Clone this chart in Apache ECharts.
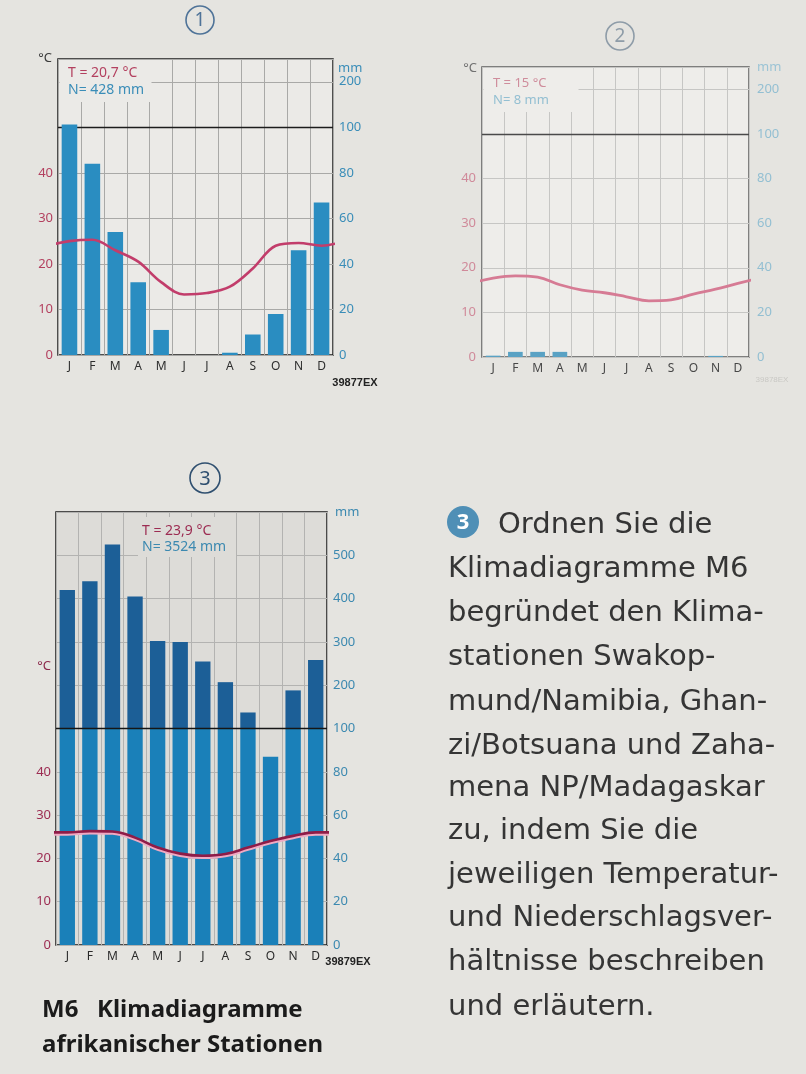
<!DOCTYPE html>
<html><head><meta charset="utf-8">
<script src="https://cdn.jsdelivr.net/npm/echarts@6/dist/echarts.min.js"></script>
<style>html,body{margin:0;padding:0;background:#e5e4e0;}#c{width:806px;height:1074px;}</style>
</head><body><div id="c"></div>
<script>
// ---------- data ----------
const months = ['J','F','M','A','M','J','J','A','S','O','N','D'];
// Diagram 1  (T = 20,7 °C, N = 428 mm)
const temp1   = [25.0, 25.3, 23.0, 20.5, 16.0, 13.3, 13.6, 15.0, 19.0, 24.0, 24.6, 24.0];
const precip1 = [106, 84, 54, 32, 11, 0, 0, 1, 9, 18, 46, 67];
// Diagram 2  (T = 15 °C, N = 8 mm)
const temp2   = [17.7, 18.2, 17.9, 16.2, 15.0, 14.4, 13.5, 12.6, 12.8, 14.1, 15.2, 16.5];
const precip2 = [0.6, 2.3, 2.3, 2.3, 0, 0, 0, 0, 0, 0, 0.5, 0];
// Diagram 3  (T = 23,9 °C, N = 3524 mm)
const temp3   = [26.0, 26.3, 26.2, 24.8, 22.5, 21.1, 20.6, 21.0, 22.5, 24.0, 25.2, 26.0];
const precip3 = [420, 440, 525, 405, 302, 300, 255, 207, 137, 87, 188, 258];
// tick labels
const tempTicks = [0, 10, 20, 30, 40];
const mmTicks12 = [0, 20, 40, 60, 80, 100, 200];
const mmTicks3  = [0, 20, 40, 60, 80, 100, 200, 300, 400, 500];

// ---------- scale helpers (Walter-Lieth: 10 °C = 20 mm, above 100 mm compressed 1:5) ----------
const toD = p => p <= 100 ? p : 100 + (p - 100) / 5;
const dToMm = d => d <= 100 ? d : 100 + (d - 100) * 5;
const cyc = t => [[-0.5, t[11] * 2]].concat(t.map((v, i) => [i + 0.5, v * 2]), [[12.5, t[0] * 2]]);

const G = [
  {left: 58, top: 59, width: 275, height: 296, max: 130, bg: '#ebeae7', frame: '#1c1c1c', split: '#a9a9a7',
   tCol: '#b3405f', pCol: '#3a8db8', mCol: '#2e2e2e', ticks: mmTicks12},
  {left: 482, top: 67, width: 267, height: 290, max: 130, bg: '#eeedea', frame: '#5c5c5c', split: '#c6c6c4',
   tCol: '#d08a9a', pCol: '#93bfd2', mCol: '#474747', ticks: mmTicks12},
  {left: 56, top: 512, width: 271, height: 433, max: 200, bg: '#dddcd8', frame: '#1a1a1a', split: '#b3b3b1',
   tCol: '#9c2c52', pCol: '#3c89b0', mCol: '#2a2a2a', ticks: mmTicks3}
];

const grid = [], xAxis = [], yAxis = [];
G.forEach((g, i) => {
  grid.push({left: g.left, top: g.top, width: g.width, height: g.height, show: true,
    backgroundColor: g.bg, borderColor: g.frame, borderWidth: 1.5, containLabel: false});
  xAxis.push({type: 'category', gridIndex: i, data: months, boundaryGap: true,
    axisLine: {show: false}, axisTick: {show: false},
    axisLabel: {color: g.mCol, fontSize: 12, margin: 6, fontFamily: 'Noto Sans', interval: 0},
    splitLine: {show: true, interval: 0, lineStyle: {color: g.split, width: 1}}});
  xAxis.push({type: 'value', gridIndex: i, min: 0, max: 12, show: false});
  yAxis.push({type: 'value', gridIndex: i, min: 0, max: g.max, interval: 20, position: 'left',
    axisLine: {show: false}, axisTick: {show: false},
    splitLine: {show: true, lineStyle: {color: g.split, width: 1}},
    axisLabel: {color: g.tCol, fontSize: 13, margin: i === 1 ? 6 : 5, fontFamily: 'Noto Sans',
      formatter: v => tempTicks.includes(v / 2) ? String(v / 2) : ''}});
  yAxis.push({type: 'value', gridIndex: i, min: 0, max: g.max, interval: 20, position: 'right',
    axisLine: {show: false}, axisTick: {show: false}, splitLine: {show: false},
    axisLabel: {color: g.pCol, fontSize: 13, margin: i === 1 ? 8 : 6, fontFamily: 'Noto Sans',
      formatter: v => g.ticks.includes(dToMm(v)) ? String(dToMm(v)) : ''}});
});

const line100 = (color, z) => ({silent: true, symbol: 'none', z: z, label: {show: false},
  lineStyle: {color: color, width: 1.4, type: 'solid'}, data: [{yAxis: 100}]});

const series = [
  // diagram 1
  {type: 'bar', xAxisIndex: 0, yAxisIndex: 0, barWidth: '68%', data: precip1.map(toD), z: 3,
   itemStyle: {color: '#2a8dc1'}, markLine: line100('#1c1c1c', 1)},
  {type: 'line', xAxisIndex: 1, yAxisIndex: 0, data: cyc(temp1), smooth: 0.35, showSymbol: false,
   lineStyle: {color: '#c23d6b', width: 2.6}, z: 4},
  // diagram 2
  {type: 'bar', xAxisIndex: 2, yAxisIndex: 2, barWidth: '66%', data: precip2.map(toD),
   itemStyle: {color: '#5aa2c4'}, markLine: line100('#4a4a4a', 1)},
  {type: 'line', xAxisIndex: 3, yAxisIndex: 2, data: cyc(temp2), smooth: 0.4, showSymbol: false,
   lineStyle: {color: '#d67b94', width: 2.8}, z: 4},
  // diagram 3 (stacked: up to 100 mm, and compressed part above)
  {type: 'bar', xAxisIndex: 4, yAxisIndex: 4, barWidth: '68%', stack: 'p3',
   data: precip3.map(p => Math.min(p, 100)), itemStyle: {color: '#1a80b9'},
   markLine: line100('#161616', 5)},
  {type: 'bar', xAxisIndex: 4, yAxisIndex: 4, barWidth: '68%', stack: 'p3',
   data: precip3.map(p => Math.max(0, toD(p) - 100)), itemStyle: {color: '#1c5f97'}},
  {type: 'line', xAxisIndex: 5, yAxisIndex: 4, data: cyc(temp3), smooth: 0.4, showSymbol: false,
   lineStyle: {color: '#8e1c48', width: 2.6, shadowColor: '#efa9c2', shadowOffsetY: 2, shadowBlur: 0}, z: 6}
];

const T = (text, x, y, o) => Object.assign({type: 'text', z: 10, style: Object.assign({
  text: text, x: x, y: y, fontSize: 13, fontFamily: 'Noto Sans', fill: '#333',
  textAlign: 'left', textVerticalAlign: 'middle'}, o || {})});
const circ = (cx, cy, r, col, num, fs) => [
  {type: 'circle', z: 10, shape: {cx: cx, cy: cy, r: r}, style: {fill: 'none', stroke: col, lineWidth: 1.6}},
  T(num, cx, cy + 1, {fill: col, fontSize: fs, textAlign: 'center'})
];

const para = [
  ['Klimadiagramme M6', 579], ['begründet den Klima-', 623], ['stationen Swakop-', 667],
  ['mund/Namibia, Ghan-', 712], ['zi/Botsuana und Zaha-', 756], ['mena NP/Madagaskar', 798],
  ['zu, indem Sie die', 841], ['jeweiligen Temperatur-', 885], ['und Niederschlagsver-', 928],
  ['hältnisse beschreiben', 972], ['und erläutern.', 1017]
];
const pStyle = {fontSize: 29, fontFamily: 'DejaVu Sans', fill: '#353535'};

const graphic = [
  // text boxes hiding the grid behind the T/N annotations
  {type: 'rect', z: 1, shape: {x: 59.5, y: 60, width: 92, height: 42}, style: {fill: G[0].bg}},
  {type: 'rect', z: 1, shape: {x: 483.5, y: 68, width: 95, height: 44}, style: {fill: G[1].bg}},
  {type: 'rect', z: 1, shape: {x: 138, y: 517, width: 98, height: 40}, style: {fill: G[2].bg}},
  // diagram 1
  ...circ(200, 20, 14, '#4f7398', '1', 19),
  T('°C', 52, 58, {textAlign: 'right', fill: '#3a3a3a'}),
  T('mm', 338, 68, {fill: '#3a8db8'}),
  T('T = 20,7 °C', 68, 73, {fill: '#b3405f', fontSize: 14}),
  T('N= 428 mm', 68, 90, {fill: '#3a8db8', fontSize: 14}),
  T('39877EX', 355, 383, {textAlign: 'center', fontSize: 11, fontWeight: 'bold', fontFamily: 'Liberation Sans', fill: '#222'}),
  // diagram 2
  ...circ(620, 36, 14, '#8e9ca8', '2', 19),
  T('°C', 477, 68, {textAlign: 'right', fill: '#707070'}),
  T('mm', 757, 67, {fill: '#9cc4d5'}),
  T('T = 15 °C', 493, 83, {fill: '#cf8d9c', fontSize: 13}),
  T('N= 8 mm', 493, 100, {fill: '#93bfd2', fontSize: 13}),
  T('39878EX', 772, 380, {textAlign: 'center', fontSize: 8, fontFamily: 'Liberation Sans', fill: '#c9c8c4'}),
  // diagram 3
  ...circ(205, 478, 15, '#2f4f6f', '3', 20),
  T('°C', 51, 666, {textAlign: 'right', fill: '#8c2a4c'}),
  T('mm', 335, 512, {fill: '#3c89b0'}),
  T('T = 23,9 °C', 142, 531, {fill: '#9c2c52', fontSize: 14}),
  T('N= 3524 mm', 142, 547, {fill: '#3c89b0', fontSize: 14}),
  T('39879EX', 348, 962, {textAlign: 'center', fontSize: 11, fontWeight: 'bold', fontFamily: 'Liberation Sans', fill: '#222'}),
  // caption
  T('M6', 42, 1010, {fontSize: 24, fontWeight: 'bold', fill: '#1b1b1b'}),
  T('Klimadiagramme', 97, 1010, {fontSize: 24, fontWeight: 'bold', fill: '#1b1b1b'}),
  T('afrikanischer Stationen', 42, 1045, {fontSize: 24, fontWeight: 'bold', fill: '#1b1b1b'}),
  // task text
  {type: 'circle', z: 10, shape: {cx: 463, cy: 522, r: 16}, style: {fill: '#4f8fb6'}},
  T('3', 463, 523, {fill: '#ffffff', fontSize: 22, fontWeight: 'bold', textAlign: 'center'}),
  T('Ordnen Sie die', 498, 525, pStyle),
  ...para.map(p => T(p[0], 448, p[1] - 10, pStyle))
];

const chart = echarts.init(document.getElementById('c'), null, {renderer: 'canvas'});
chart.setOption({
  backgroundColor: '#e5e4e0',
  animation: false,
  grid: grid, xAxis: xAxis, yAxis: yAxis, series: series, graphic: graphic
});
</script></body></html>
